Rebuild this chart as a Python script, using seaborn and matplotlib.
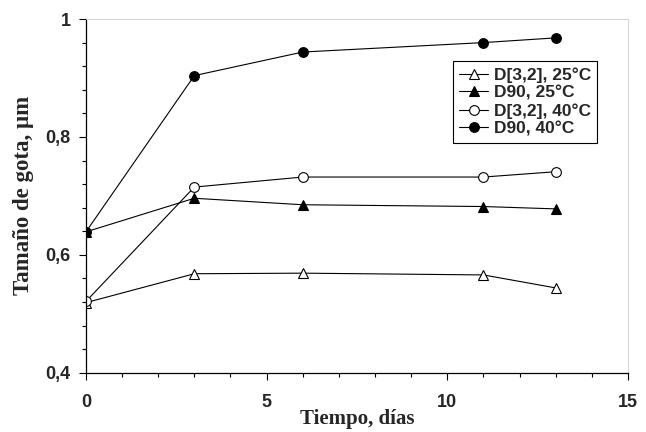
import matplotlib.pyplot as plt
import seaborn as sns
from matplotlib.ticker import FixedLocator, MultipleLocator, FuncFormatter

# data
dias = [0, 3, 6, 11, 13]
d32_25 = [0.519, 0.568, 0.569, 0.566, 0.544]
d90_25 = [0.639, 0.696, 0.685, 0.682, 0.678]
d32_40 = [0.521, 0.715, 0.732, 0.732, 0.741]
d90_40 = [0.639, 0.904, 0.944, 0.960, 0.968]

series = [
    ("D[3,2], 25°C", d32_25, "^", "white"),
    ("D90, 25°C", d90_25, "^", "black"),
    ("D[3,2], 40°C", d32_40, "o", "white"),
    ("D90, 40°C", d90_40, "o", "black"),
]

sns.set_style("ticks")
plt.rcParams["font.family"] = ["Liberation Sans", "DejaVu Sans"]

fig = plt.figure(figsize=(6.46, 4.32), dpi=100)
ax = fig.add_axes([0.133, 0.137, 0.839, 0.819])

for name, vals, mk, fc in series:
    sns.lineplot(x=dias, y=vals, ax=ax, color="black", linewidth=0.8,
                 marker=mk, markersize=7, markerfacecolor=fc,
                 markeredgecolor="black", markeredgewidth=0.8, label=name)

ax.set_xlim(0, 15)
ax.set_ylim(0.4, 1.0)
ax.xaxis.set_major_locator(FixedLocator([0, 5, 10, 15]))
ax.xaxis.set_minor_locator(MultipleLocator(1))
ax.yaxis.set_major_locator(FixedLocator([0.4, 0.6, 0.8, 1.0]))
ax.yaxis.set_minor_locator(MultipleLocator(0.04))
ax.yaxis.set_major_formatter(FuncFormatter(lambda v, p: ("%g" % round(v, 2)).replace(".", ",")))

ax.tick_params(which="major", direction="out", length=5, width=0.8, color="black",
               labelsize=13)
ax.tick_params(axis="y", which="major", pad=6)
ax.tick_params(axis="x", which="major", pad=10)
ax.tick_params(which="minor", direction="out", length=3, width=0.8, color="black")
for lab in ax.get_xticklabels() + ax.get_yticklabels():
    lab.set_fontweight("bold")

for s in ["left", "bottom"]:
    ax.spines[s].set_color("black")
    ax.spines[s].set_linewidth(0.9)
for s in ["top", "right"]:
    ax.spines[s].set_color("#cccccc")
    ax.spines[s].set_linewidth(0.6)

ax.set_xlabel("Tiempo, días", fontsize=15, fontweight="bold",
              family=["Liberation Serif", "DejaVu Serif"], labelpad=-1)
ax.set_ylabel("Tamaño de gota, μm", fontsize=16.5, fontweight="bold",
              family=["Liberation Serif", "DejaVu Serif"], labelpad=8)

leg = ax.legend(loc="upper left", bbox_to_anchor=(0.677, 0.881), frameon=True,
                fancybox=False, edgecolor="black", framealpha=1,
                prop={"weight": "bold", "size": 12.5}, handlelength=1.7,
                handletextpad=0.3, borderpad=0.35, labelspacing=0.15,
                borderaxespad=0)
leg.get_frame().set_linewidth(0.8)

fig.savefig("out.png", dpi=100)
